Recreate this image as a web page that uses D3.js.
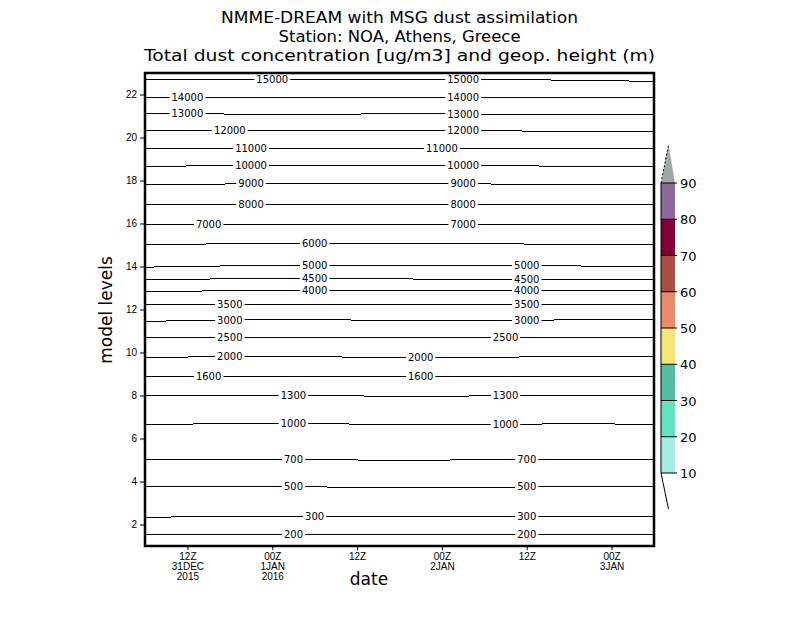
<!DOCTYPE html>
<html>
<head>
<meta charset="utf-8">
<script src="https://cdn.jsdelivr.net/npm/d3@7"></script>
<style>
  body { margin: 0; background: #fff; }
  text { font-family: "DejaVu Sans", sans-serif; }
</style>
</head>
<body>
<div id="chart"></div>
<script>
// hours after 06Z 31DEC2015 where each contour level is sampled
var sampleHours = [0, 12, 24, 36, 48, 60, 72];

// geopotential height contours (m)
var contourValues = [15000, 14000, 13000, 12000, 11000, 10000, 9000, 8000, 7000, 6000,
                     5000, 4500, 4000, 3500, 3000, 2500, 2000, 1600, 1300, 1000, 700, 500, 300, 200];

// model level of each contour at the sample hours
var contourLevels = [
  [22.69, 22.69, 22.69, 22.69, 22.69, 22.67, 22.61],
  [21.84, 21.84, 21.84, 21.84, 21.84, 21.84, 21.84],
  [21.13, 21.09, 21.06, 21.12, 21.08, 21.06, 21.06],
  [20.32, 20.32, 20.32, 20.32, 20.32, 20.28, 20.26],
  [19.51, 19.51, 19.51, 19.51, 19.51, 19.51, 19.49],
  [18.65, 18.70, 18.70, 18.70, 18.70, 18.66, 18.65],
  [17.79, 17.84, 17.84, 17.84, 17.84, 17.80, 17.79],
  [16.86, 16.89, 16.90, 16.90, 16.90, 16.90, 16.86],
  [15.97, 15.97, 15.97, 15.95, 15.94, 15.94, 15.94],
  [15.01, 15.06, 15.06, 15.06, 15.06, 15.03, 15.01],
  [13.97, 14.03, 14.03, 14.03, 14.03, 14.03, 13.98],
  [13.38, 13.43, 13.44, 13.42, 13.41, 13.41, 13.41],
  [12.82, 12.88, 12.88, 12.88, 12.88, 12.88, 12.88],
  [12.21, 12.21, 12.21, 12.21, 12.21, 12.21, 12.21],
  [11.45, 11.51, 11.52, 11.50, 11.47, 11.52, 11.52],
  [10.71, 10.71, 10.71, 10.71, 10.71, 10.71, 10.71],
  [9.76, 9.82, 9.80, 9.77, 9.77, 9.82, 9.82],
  [8.89, 8.89, 8.89, 8.89, 8.89, 8.89, 8.89],
  [8.01, 8.01, 8.00, 7.96, 7.98, 7.99, 7.99],
  [6.64, 6.70, 6.69, 6.65, 6.64, 6.69, 6.66],
  [5.03, 5.03, 5.03, 4.97, 5.02, 5.03, 5.03],
  [3.75, 3.75, 3.75, 3.71, 3.74, 3.75, 3.75],
  [2.33, 2.39, 2.39, 2.37, 2.35, 2.38, 2.39],
  [1.53, 1.53, 1.53, 1.53, 1.53, 1.53, 1.53]
];

// where the contour labels sit (hours after 06Z 31DEC)
var labelHours = [
  [18, 45], [6, 45], [6, 45], [12, 45], [15, 42], [15, 45], [15, 45], [15, 45], [9, 45],
  [24], [24, 54], [24, 54], [24, 54], [12, 54], [12, 54], [12, 51], [12, 39], [9, 39],
  [21, 51], [21, 51], [21, 54], [21, 54], [24, 54], [21, 54]
];

var yTicks = [2, 4, 6, 8, 10, 12, 14, 16, 18, 20, 22];
var xTickHours = [6, 18, 30, 42, 54, 66];
var xTickLabels = [["12Z", "31DEC", "2015"], ["00Z", "1JAN", "2016"], ["12Z"],
                   ["00Z", "2JAN"], ["12Z"], ["00Z", "3JAN"]];

// dust concentration colour bar
var barLevels = [10, 20, 30, 40, 50, 60, 70, 80, 90];
var barColors = ["#a5ece4", "#5fe3c1", "#55bc9f", "#f5e67b", "#e88b6b", "#a94e42", "#820032", "#8e6a9c"];
var overColor = "#a1a7a5";

var titleLines = ["NMME-DREAM with MSG dust assimilation",
                  "Station: NOA, Athens, Greece",
                  "Total dust concentration [ug/m3] and geop. height (m)"];

var start = Date.UTC(2015, 11, 31, 6);
function hourDate(h) { return new Date(start + h * 3600000); }

var svg = d3.select("#chart")
  .append("svg")
    .attr("width", 800)
    .attr("height", 618)
    .style("background", "#fff");

var x = d3.scaleUtc()
  .domain([hourDate(0), hourDate(72)])
  .range([145, 654]);

var y = d3.scaleLinear()
  .domain([1, 23])
  .range([546, 73]);

// titles
var titleWidths = [357, 242, 511];
var titleY = [23, 42, 61];
titleLines.forEach(function(t, i) {
  svg.append("text")
    .attr("x", 399.5)
    .attr("y", titleY[i])
    .attr("text-anchor", "middle")
    .attr("textLength", titleWidths[i])
    .attr("lengthAdjust", "spacingAndGlyphs")
    .style("font-size", "16px")
    .text(t);
});

svg.append("defs").append("clipPath")
    .attr("id", "plotclip")
  .append("rect")
    .attr("x", 145).attr("y", 73)
    .attr("width", 509).attr("height", 473);

// contour lines
var line = d3.line()
  .x(function(d) { return x(hourDate(d[0])); })
  .y(function(d) { return y(d[1]); });

var contours = svg.append("g").attr("clip-path", "url(#plotclip)");
contourValues.forEach(function(v, i) {
  var pts = sampleHours.map(function(h, j) { return [h, contourLevels[i][j]]; });
  contours.append("path")
    .attr("d", line(pts))
    .attr("fill", "none")
    .attr("stroke", "#000")
    .attr("stroke-width", 1)
    .attr("shape-rendering", "crispEdges");
});

// contour labels with a white gap under them
var levelAt = function(i, h) {
  var k = d3.bisectRight(sampleHours, h) - 1;
  if (k >= sampleHours.length - 1) return contourLevels[i][sampleHours.length - 1];
  var f = (h - sampleHours[k]) / (sampleHours[k + 1] - sampleHours[k]);
  return contourLevels[i][k] * (1 - f) + contourLevels[i][k + 1] * f;
};

var labels = svg.append("g");
contourValues.forEach(function(v, i) {
  labelHours[i].forEach(function(h) {
    var cx = x(hourDate(h)), cy = y(levelAt(i, h));
    var bg = labels.append("rect").attr("fill", "#fff");
    var t = labels.append("text")
      .attr("x", cx)
      .attr("y", cy + 3.5)
      .attr("text-anchor", "middle")
      .style("font-size", "10px")
      .text(v);
    var w = t.node().getComputedTextLength();
    bg.attr("x", cx - w / 2 - 2).attr("y", cy - 4)
      .attr("width", w + 4).attr("height", 8);
  });
});

// frame
svg.append("rect")
  .attr("x", 145).attr("y", 73)
  .attr("width", 509).attr("height", 473)
  .attr("fill", "none")
  .attr("stroke", "#000")
  .attr("stroke-width", 2.5);

// Y axis
var yAxis = svg.append("g")
  .attr("transform", "translate(144,0)")
  .call(d3.axisLeft(y).tickValues(yTicks).tickSize(4).tickPadding(3));
yAxis.select(".domain").remove();
yAxis.selectAll("text")
  .style("font-family", "Liberation Sans, sans-serif")
  .style("font-size", "10px");

// X axis
var xAxis = svg.append("g")
  .attr("transform", "translate(0,547)")
  .call(d3.axisBottom(x).tickValues(xTickHours.map(hourDate)).tickSize(3).tickFormat(""));
xAxis.select(".domain").remove();
xAxis.selectAll(".tick").each(function(d, i) {
  var t = d3.select(this).append("text")
    .attr("fill", "#000")
    .attr("text-anchor", "middle")
    .style("font-family", "Liberation Sans, sans-serif")
    .style("font-size", "10px");
  xTickLabels[i].forEach(function(s, k) {
    t.append("tspan").attr("x", 0).attr("y", 13 + k * 10).text(s);
  });
});

// axis titles
svg.append("text")
  .attr("x", 369)
  .attr("y", 585)
  .attr("text-anchor", "middle")
  .style("font-size", "17px")
  .text("date");

svg.append("text")
  .attr("transform", "translate(112,310) rotate(-90)")
  .attr("text-anchor", "middle")
  .style("font-size", "17px")
  .text("model levels");

// colour bar
var cb = d3.scaleLinear().domain([10, 90]).range([473, 183]);
var bar = svg.append("g");
barColors.forEach(function(c, i) {
  bar.append("rect")
    .attr("x", 661)
    .attr("y", cb(barLevels[i + 1]))
    .attr("width", 14)
    .attr("height", cb(barLevels[i]) - cb(barLevels[i + 1]))
    .attr("fill", c);
});
bar.append("path")
  .attr("d", "M661," + cb(90) + "L668.5,145L675," + cb(90) + "Z")
  .attr("fill", overColor);
bar.append("path")
  .attr("d", "M661," + cb(90) + "L668.5,145")
  .attr("stroke", "#000")
  .attr("stroke-dasharray", "2,2")
  .attr("fill", "none");
bar.append("line")
  .attr("x1", 661).attr("x2", 661)
  .attr("y1", cb(90)).attr("y2", cb(10))
  .attr("stroke", "#000");
bar.append("line")
  .attr("x1", 661).attr("y1", cb(10))
  .attr("x2", 668.5).attr("y2", 509)
  .attr("stroke", "#000");
barLevels.forEach(function(l) {
  bar.append("line")
    .attr("x1", 661).attr("x2", 677)
    .attr("y1", cb(l)).attr("y2", cb(l))
    .attr("stroke", "#000");
  bar.append("text")
    .attr("x", 680)
    .attr("y", cb(l) + 5)
    .style("font-size", "13px")
    .text(l);
});
</script>
</body>
</html>
